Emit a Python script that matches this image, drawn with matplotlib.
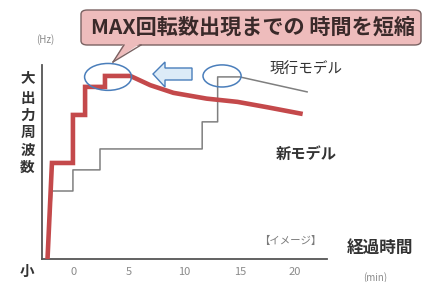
import matplotlib
matplotlib.use('Agg')
import matplotlib.pyplot as plt
from matplotlib.patches import Ellipse, Polygon, FancyBboxPatch

plt.rcParams['font.family'] = ['Noto Sans CJK JP', 'DejaVu Sans']

# --- data (minutes, output frequency 0-100) ---
time_new = [-2.4, -2.0, -0.1, -0.1, 1.0, 1.0, 2.8, 2.8, 5.1, 6.9, 9.0, 12.0, 14.8, 17.5, 20.7]
freq_new = [0, 50, 50, 75, 75, 89.6, 89.6, 95.3, 95.3, 90.5, 86.5, 83.5, 81.8, 79.0, 75.5]

time_cur = [-2.4, -2.0, -0.1, -0.1, 2.35, 2.35, 11.6, 11.6, 13.0, 13.0, 15.0, 21.1]
freq_cur = [0, 35.4, 35.4, 46.4, 46.4, 57.3, 57.3, 71.4, 71.4, 94.8, 94.8, 87.0]

x_ticks = [0, 5, 10, 15, 20]

W, H = 424, 282


def px(x, y):
    # pixel position (top-left origin) -> figure fraction
    return x / W, 1 - y / H


fig = plt.figure(figsize=(W / 100, H / 100), dpi=100)
ax = fig.add_axes([42 / W, 1 - 259 / H, 285 / W, 194 / H])

ax.plot(time_cur, freq_cur, color='#7f7f7f', lw=1.1, zorder=3)
ax.plot(time_new, freq_new, color='#c4494b', lw=3.3, zorder=4,
        solid_joinstyle='miter', solid_capstyle='butt')

ax.set_xlim(-2.9, 22.9)
ax.set_ylim(0, 101)
ax.set_xticks(x_ticks)
ax.set_xticklabels([str(t) for t in x_ticks])
ax.tick_params(axis='x', length=0, pad=6, labelsize=8, labelcolor='#8a8a8a')
ax.set_yticks([])
for side in ['top', 'right']:
    ax.spines[side].set_visible(False)
for side in ['left', 'bottom']:
    ax.spines[side].set_color('#555555')
    ax.spines[side].set_linewidth(1.3)

# blue ellipses around the peaks
ax.add_patch(Ellipse((3.08, 94.8), 4.25, 14.0, fill=False, ec='#4a7ebb', lw=1.1, zorder=5, clip_on=False))
ax.add_patch(Ellipse((13.4, 95.3), 3.45, 11.5, fill=False, ec='#4a7ebb', lw=1.1, zorder=5, clip_on=False))

# left pointing block arrow
arrow_px = [(153, 74), (165, 62), (165, 68), (192, 68), (192, 80), (165, 80), (165, 87)]
fig.add_artist(Polygon([px(*p) for p in arrow_px], closed=True, fc='#dcebf7',
                       ec='#4a7ebb', lw=1.0, zorder=6))

# callout box
x0, y0 = px(81, 45)
x1, y1 = px(421, 10)
fig.add_artist(FancyBboxPatch((x0, y0), x1 - x0, y1 - y0,
                              boxstyle='round,pad=0,rounding_size=0.015',
                              fc='#eebcbc', ec='#7a6262', lw=1.0, zorder=7))
tail_px = [(124, 43), (113, 62), (141, 43)]
fig.add_artist(Polygon([px(*p) for p in tail_px], closed=True, fc='#eebcbc',
                       ec='none', zorder=8))
for a, b in [((124, 45), (113, 62)), ((113, 62), (141, 45))]:
    fig.add_artist(plt.Line2D([px(*a)[0], px(*b)[0]], [px(*a)[1], px(*b)[1]],
                              color='#7a6262', lw=1.0, zorder=8))
fig.text(*px(253, 27), 'MAX回転数出現までの 時間を短縮', ha='center', va='center',
         fontsize=15.2, fontweight='bold', color='#3a2a2a', zorder=9)

# y axis labels
fig.text(*px(45, 40), '(Hz)', ha='center', va='center', fontsize=7, color='#8a8a8a')
fig.text(*px(27.5, 77), '大', ha='center', va='center', fontsize=10.5, fontweight='bold', color='#333333')
for i, ch in enumerate('出力周波数'):
    fig.text(*px(27.5, 98 + i * 17.2), ch, ha='center', va='center',
             fontsize=10.5, fontweight='bold', color='#333333')
fig.text(*px(27.5, 271), '小', ha='center', va='center', fontsize=10.5, fontweight='bold', color='#333333')

# series / axis labels
fig.text(*px(306, 70), '現行モデル', ha='center', va='center', fontsize=10.5, color='#333333')
fig.text(*px(306, 154), '新モデル', ha='center', va='center', fontsize=11, fontweight='bold', color='#333333')
fig.text(*px(290, 241), '【イメージ】', ha='center', va='center', fontsize=7.5, color='#7a7a7a')
fig.text(*px(380, 248), '経過時間', ha='center', va='center', fontsize=12, fontweight='bold', color='#333333')
fig.text(*px(375, 278), '(min)', ha='center', va='center', fontsize=7, color='#8a8a8a')

fig.savefig('out.png', dpi=100)
